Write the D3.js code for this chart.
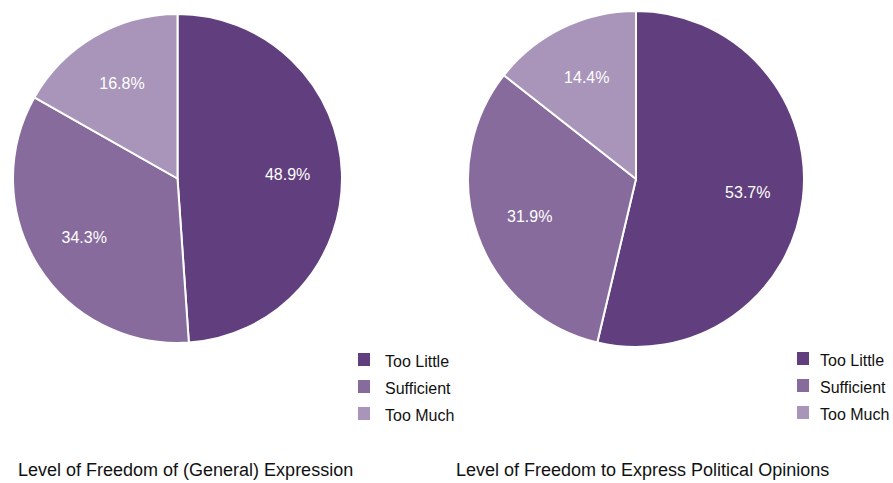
<!DOCTYPE html>
<html><head><meta charset="utf-8">
<script src="https://cdn.jsdelivr.net/npm/d3@7"></script>
<style>body{margin:0;background:#fff}svg{display:block}text{font-family:"Liberation Sans",Arial,sans-serif}</style>
</head><body><svg id="c" width="893" height="483"></svg>
<script>
const categories = ["Too Little", "Sufficient", "Too Much"];
const generalValues = [48.9, 34.3, 16.8];
const politicalValues = [53.7, 31.9, 14.4];
const chartTitles = ["Level of Freedom of (General) Expression", "Level of Freedom to Express Political Opinions"];
const colors = ["#613e7e", "#876b9d", "#a995ba"];

const svg = d3.select("#c");
const color = d3.scaleOrdinal().domain(categories).range(colors);
const pie = d3.pie().sort(null).value(d => d.v);

const charts = [
  {vals: generalValues, cx: 177.5, cy: 178.5, r: 164.5, legX: 358, legY: 353, textDx: 27, titleX: 18},
  {vals: politicalValues, cx: 636, cy: 179, r: 168, legX: 797, legY: 352, textDx: 23, titleX: 456}
];

charts.forEach((c, i) => {
  const data = categories.map((k, j) => ({k, v: c.vals[j]}));
  const g = svg.append("g").attr("transform", `translate(${c.cx},${c.cy})`);
  const arc = d3.arc().innerRadius(0).outerRadius(c.r);
  const lab = d3.arc().innerRadius(c.r * 0.67).outerRadius(c.r * 0.67);
  const arcs = pie(data);
  g.selectAll("path").data(arcs).join("path")
    .attr("d", arc).attr("fill", d => color(d.data.k))
    .attr("stroke", "#fff").attr("stroke-width", 2);
  g.selectAll("text").data(arcs).join("text")
    .attr("transform", d => `translate(${lab.centroid(d)})`)
    .attr("text-anchor", "middle").attr("dy", "0.35em")
    .attr("fill", "#fff").attr("font-size", 16)
    .text(d => d.data.v.toFixed(1) + "%");
  const leg = svg.append("g").attr("transform", `translate(${c.legX},${c.legY})`);
  categories.forEach((k, j) => {
    leg.append("rect").attr("x", 0).attr("y", j * 27).attr("width", 12).attr("height", 13).attr("fill", color(k));
    leg.append("text").attr("x", c.textDx).attr("y", j * 27 + 14).attr("font-size", 16).attr("fill", "#111").text(k);
  });
  svg.append("text").attr("x", c.titleX).attr("y", 476).attr("font-size", 18).attr("fill", "#111").text(chartTitles[i]);
});
</script></body></html>
